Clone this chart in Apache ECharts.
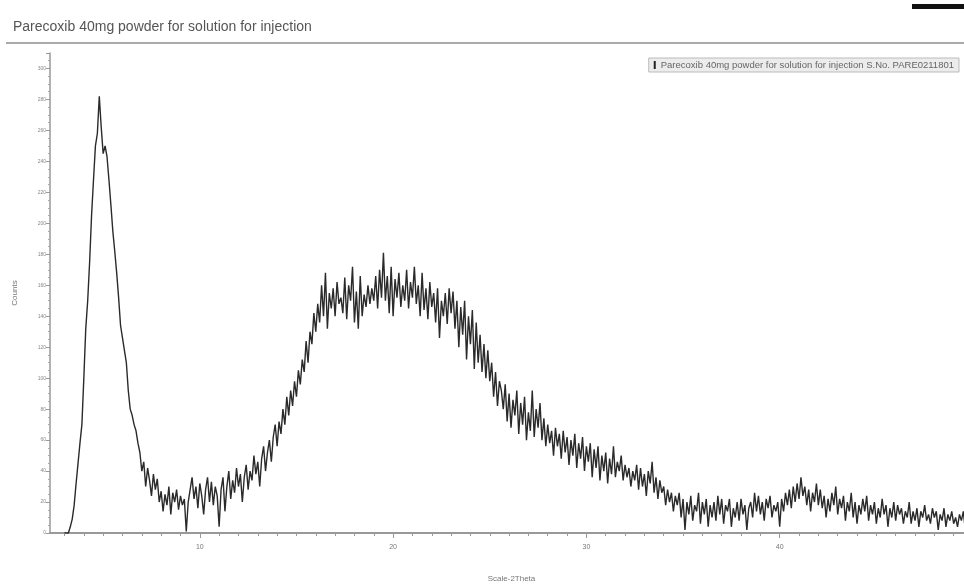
<!DOCTYPE html>
<html>
<head>
<meta charset="utf-8">
<script src="https://cdn.jsdelivr.net/npm/echarts@6/dist/echarts.min.js"></script>
<style>
  html, body { margin: 0; padding: 0; background: #fff; }
  #chart { width: 964px; height: 586px; }
</style>
</head>
<body>
<div id="chart"></div>
<script>
// scan: 2-theta from 3.0 in 0.1 deg steps, counts
var scanStart = 3.0
var scanStep = 0.1
var counts = [
  // 3
  0, 1, 0, 4, 9, 18, 32, 45, 58, 70,
  // 4
  100, 132, 150, 175, 205, 228, 250, 258, 282, 262,
  // 5
  245, 250, 243, 228, 212, 195, 182, 168, 152, 134,
  // 6
  126, 118, 110, 92, 80, 76, 70, 66, 58, 52,
  // 7
  40, 46, 30, 42, 34, 24, 38, 28, 35, 20,
  // 8
  27, 14, 25, 18, 30, 12, 26, 20, 28, 15,
  // 9
  24, 18, 22, 1, 20, 28, 36, 22, 30, 16,
  // 10
  32, 24, 12, 28, 36, 20, 33, 18, 30, 24,
  // 11
  4, 28, 36, 14, 30, 40, 22, 34, 26, 42,
  // 12
  30, 38, 20, 36, 44, 28, 40, 34, 50, 38,
  // 13
  46, 30, 48, 56, 40, 52, 60, 46, 62, 70,
  // 14
  56, 72, 64, 80, 70, 88, 76, 92, 82, 98,
  // 15
  88, 105, 96, 112, 104, 124, 110, 130, 122, 142,
  // 16
  130, 148, 136, 160, 140, 168, 132, 155, 145, 158,
  // 17
  140, 162, 148, 152, 142, 165, 138, 160, 150, 172,
  // 18
  136, 156, 132, 166, 140, 154, 146, 160, 148, 158,
  // 19
  150, 166, 145, 170, 152, 181, 150, 166, 142, 172,
  // 20
  140, 164, 152, 168, 146, 160, 150, 170, 145, 162,
  // 21
  152, 172, 148, 160, 140, 168, 144, 158, 138, 162,
  // 22
  146, 155, 136, 158, 126, 150, 140, 155, 135, 158,
  // 23
  142, 156, 132, 150, 120, 146, 128, 150, 112, 140,
  // 24
  122, 144, 106, 136, 110, 128, 104, 122, 100, 118,
  // 25
  98, 110, 88, 104, 82, 98, 92, 80, 96, 72,
  // 26
  90, 68, 86, 76, 92, 64, 84, 70, 88, 60,
  // 27
  78, 66, 92, 62, 80, 68, 84, 60, 74, 56,
  // 28
  70, 58, 66, 50, 68, 56, 64, 48, 66, 52,
  // 29
  62, 44, 60, 50, 64, 42, 58, 48, 62, 40,
  // 30
  56, 46, 58, 36, 54, 42, 56, 34, 50, 40,
  // 31
  52, 32, 48, 38, 56, 36, 46, 40, 50, 34,
  // 32
  44, 36, 42, 30, 40, 34, 44, 28, 42, 30,
  // 33
  38, 24, 40, 32, 46, 26, 36, 22, 34, 26,
  // 34
  30, 18, 28, 20, 26, 14, 24, 18, 26, 10,
  // 35
  22, 2, 20, 12, 24, 8, 18, 14, 26, 6,
  // 36
  20, 12, 22, 4, 18, 10, 20, 8, 24, 12,
  // 37
  22, 6, 18, 14, 22, 4, 16, 10, 20, 8,
  // 38
  22, 12, 18, 2, 16, 20, 10, 26, 14, 24,
  // 39
  12, 20, 8, 22, 16, 24, 10, 18, 14, 20,
  // 40
  4, 22, 14, 26, 18, 28, 16, 30, 20, 32,
  // 41
  22, 36, 24, 30, 18, 28, 14, 26, 20, 32,
  // 42
  18, 28, 16, 24, 10, 22, 14, 26, 18, 30,
  // 43
  12, 22, 16, 24, 8, 20, 14, 26, 10, 20,
  // 44
  6, 18, 12, 22, 14, 24, 8, 18, 12, 20,
  // 45
  6, 16, 10, 22, 12, 18, 4, 16, 10, 20,
  // 46
  8, 18, 12, 16, 6, 14, 10, 20, 6, 14,
  // 47
  8, 16, 4, 14, 10, 18, 8, 12, 6, 16,
  // 48
  10, 14, 2, 12, 8, 16, 4, 12, 8, 14,
  // 49
  6, 10, 4, 12, 8, 14, 2, 10, 6, 12
]
var xLabels = [10, 20, 30, 40, 50]
var xMinorTicks = [3, 4, 5, 6, 7, 8, 9, 11, 12, 13, 14, 15, 16, 17, 18, 19, 21, 22, 23, 24, 25, 26, 27, 28, 29,
  31, 32, 33, 34, 35, 36, 37, 38, 39, 41, 42, 43, 44, 45, 46, 47, 48, 49]
var seriesName = 'Parecoxib 40mg powder for solution for injection S.No. PARE0211801'

var points = counts.map(function (c, i) {
  return [+(scanStart + i * scanStep).toFixed(1), c]
})

var myChart = echarts.init(document.getElementById('chart'))
var option = {
  animation: false,
  backgroundColor: '#fff',
  textStyle: { fontFamily: 'Liberation Sans, Arial, sans-serif' },
  title: {
    text: 'Parecoxib 40mg powder for solution for injection',
    left: 8,
    top: 15,
    textStyle: { fontSize: 14, fontWeight: 'normal', color: '#555' }
  },
  graphic: [
    { type: 'line', shape: { x1: 6, y1: 43, x2: 964, y2: 43 }, style: { stroke: '#aaa', lineWidth: 2 } },
    { type: 'rect', shape: { x: 912, y: 4, width: 52, height: 5 }, style: { fill: '#111' } }
  ],
  legend: {
    data: [seriesName],
    right: 5,
    top: 58,
    icon: 'rect',
    itemWidth: 2,
    itemHeight: 8,
    itemGap: 6,
    padding: [2, 5],
    backgroundColor: '#ececec',
    borderColor: '#bbb',
    borderWidth: 1,
    textStyle: { fontSize: 9.5, color: '#666' }
  },
  grid: { left: 50, right: -9, top: 53, bottom: 53, outerBoundsMode: 'none', containLabel: false },
  xAxis: [{
    type: 'value',
    min: 2.25,
    max: 50,
    name: 'Scale-2Theta',
    nameLocation: 'middle',
    nameGap: 42,
    nameTextStyle: { fontSize: 8, color: '#777' },
    axisLine: { lineStyle: { color: '#999', width: 2 } },
    axisTick: { show: true, length: 3, customValues: xMinorTicks, lineStyle: { color: '#999' } },
    axisLabel: { customValues: xLabels, fontSize: 7, color: '#777', margin: 11 },
    splitLine: { show: false }
  }, {
    type: 'value',
    position: 'bottom',
    min: 2.25,
    max: 50,
    axisLine: { show: false },
    axisTick: { show: true, length: 5, customValues: xLabels, lineStyle: { color: '#999' } },
    axisLabel: { show: false },
    splitLine: { show: false }
  }],
  yAxis: [{
    type: 'value',
    min: 0,
    max: 310,
    interval: 20,
    name: 'Counts',
    nameLocation: 'middle',
    nameGap: 31,
    nameTextStyle: { fontSize: 8, color: '#777' },
    axisLine: { show: true, lineStyle: { color: '#999', width: 1.5 } },
    axisTick: { show: true, length: 4, lineStyle: { color: '#999' } },
    minorTick: { show: true, splitNumber: 4, length: 2, lineStyle: { color: '#aaa' } },
    axisLabel: { fontSize: 5, color: '#888', margin: 4, showMaxLabel: false },
    splitLine: { show: false }
  }],
  series: [{
    name: seriesName,
    type: 'line',
    data: points,
    symbol: 'none',
    color: '#222',
    lineStyle: { color: '#2a2a2a', width: 1.4 }
  }]
}
myChart.setOption(option)
</script>
</body>
</html>
